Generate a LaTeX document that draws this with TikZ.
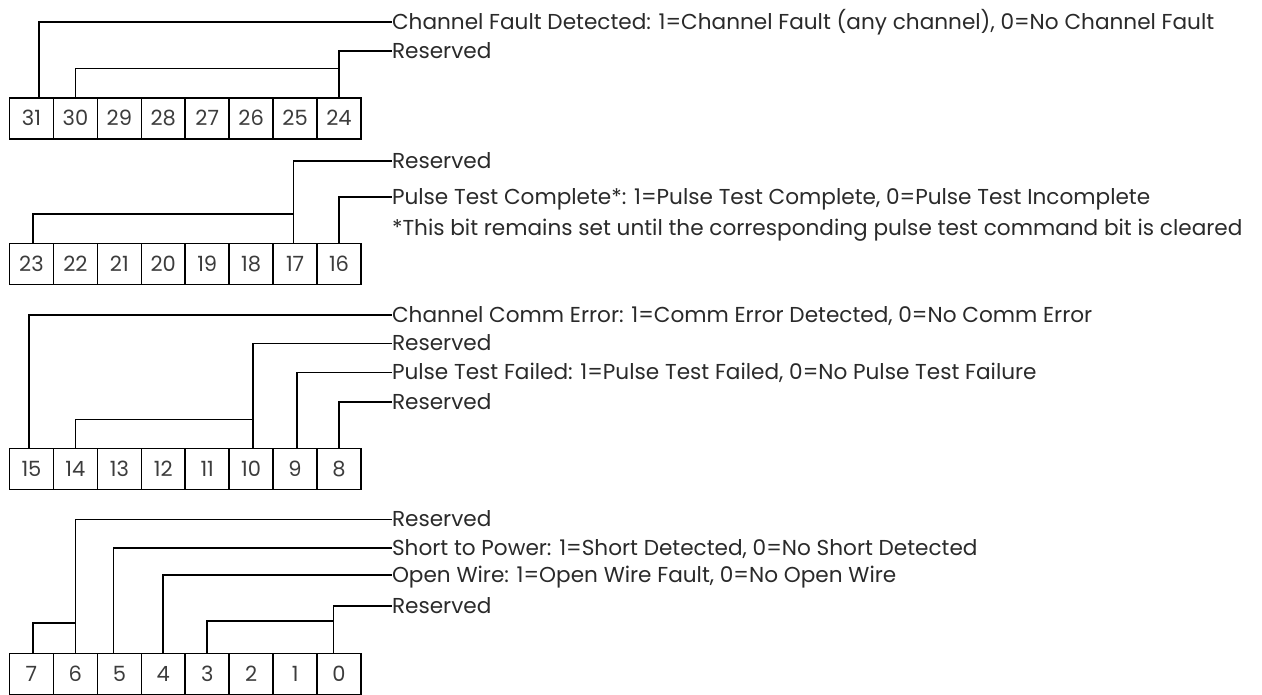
\documentclass[tikz,border=0pt]{standalone}
\usepackage{fontspec}
\setmainfont{Poppins}
\definecolor{txtgray}{HTML}{2A2A2A}
\definecolor{numgray}{HTML}{3C3C3C}
\tikzset{
  cell/.style={draw=black, line width=1.6pt, minimum width=43.94pt, minimum height=41pt,
    inner sep=0pt, outer sep=0pt, anchor=north west, text=numgray,
    font=\fontsize{21}{24}\selectfont},
  lbl/.style={anchor=west, inner sep=0pt, outer sep=0pt, text height=19pt, text depth=4pt,
    text=txtgray, font=\fontsize{21.6}{25}\selectfont},
  conn/.style={draw=black, line width=1.6pt}
}
\begin{document}
\begin{tikzpicture}[x=1pt,y=-1pt]
\useasboundingbox (0,0) rectangle (1262,694);
\clip (0,0) rectangle (1262,694);
\fill[white] (0,0) rectangle (1262,694);
% cells
\foreach \top/\first in {97.7/31, 243.3/23, 448.3/15, 653.3/7} {
  \foreach \i in {0,...,7} {
    \pgfmathtruncatemacro\n{\first-\i}
    \node[cell] (b\n) at ({9.5+43.94*\i},\top) {\n};
  }
}
% labels
\node[lbl] (t1) at (392,21.7) {Channel Fault Detected: 1=Channel Fault (any channel), 0=No Channel Fault};
\node[lbl] (t2) at (392,50.7) {Reserved};
\node[lbl] (t3) at (392,161) {Reserved};
\node[lbl] (t4) at (392,196.7) {Pulse Test Complete*: 1=Pulse Test Complete, 0=Pulse Test Incomplete};
\node[lbl] (t4b) at (392,227.5) {*This bit remains set until the corresponding pulse test command bit is cleared};
\node[lbl] (t5) at (392,315) {Channel Comm Error: 1=Comm Error Detected, 0=No Comm Error};
\node[lbl] (t6) at (392,343.3) {Reserved};
\node[lbl] (t7) at (392,372.3) {Pulse Test Failed: 1=Pulse Test Failed, 0=No Pulse Test Failure};
\node[lbl] (t8) at (392,401.7) {Reserved};
\node[lbl] (t9) at (392,519.3) {Reserved};
\node[lbl] (t10) at (392,547.7) {Short to Power: 1=Short Detected, 0=No Short Detected};
\node[lbl] (t11) at (392,575) {Open Wire: 1=Open Wire Fault, 0=No Open Wire};
\node[lbl] (t12) at (392,606) {Reserved};
% junctions
\coordinate (j1) at (339.3,68.3);
\coordinate (j2) at (293.3,214);
\coordinate (j3) at (253.3,419.3);
\coordinate (j4) at (76,622.7);
\coordinate (j5) at (333.3,620.7);
% connectors row 1
\draw[conn] ([xshift=7.5pt]b31.north) |- (t1.west);
\draw[conn] (b24.north) |- (t2.west);
\draw[conn] (b30.north) |- (j1);
% row 2
\draw[conn] ([xshift=-1.8pt]b17.north) |- (t3.west);
\draw[conn] ([xshift=1.8pt]b23.north) |- (j2);
\draw[conn] (b16.north) |- (t4.west);
% row 3
\draw[conn] ([xshift=-2.2pt]b15.north) |- (t5.west);
\draw[conn] ([xshift=2.1pt]b10.north) |- (t6.west);
\draw[conn] (b14.north) |- (j3);
\draw[conn] ([xshift=1.6pt]b9.north) |- (t7.west);
\draw[conn] (b8.north) |- (t8.west);
% row 4
\draw[conn] (b6.north) |- (t9.west);
\draw[conn] ([xshift=1.8pt]b7.north) |- (j4);
\draw[conn] ([xshift=-6pt]b5.north) |- (t10.west);
\draw[conn] (b4.north) |- (t11.west);
\draw[conn] ([xshift=-5.7pt]b0.north) |- (t12.west);
\draw[conn] (b3.north) |- (j5);
\end{tikzpicture}
\end{document}
